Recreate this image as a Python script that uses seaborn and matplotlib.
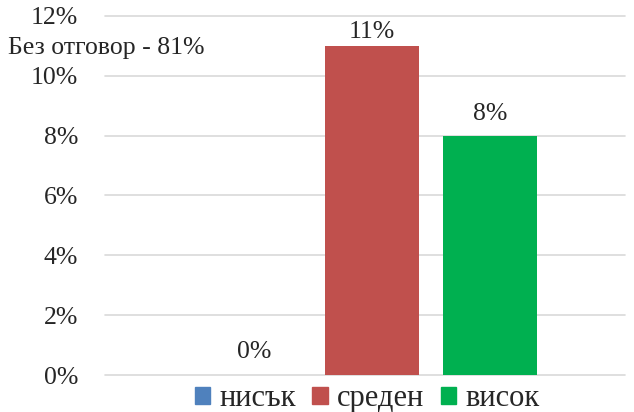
import pandas as pd
import seaborn as sns
from matplotlib import pyplot as plt

# values
levels = ['нисък', 'среден', 'висок']
shares = [0, 11, 8]
colors = ['#4F81BD', '#C0504D', '#00B050']
no_answer = 'Без отговор - 81%'

df = pd.DataFrame({'level': levels, 'share': shares})

sns.set_style('white')
plt.rcParams['font.family'] = ['Liberation Serif', 'DejaVu Serif']

fig = plt.figure(figsize=(6.34, 4.12), dpi=100)
ax = fig.add_axes([0.1656, 0.0898, 0.8204, 0.8714])

sns.barplot(data=df, x='level', y='share', hue='level', palette=colors,
            width=0.8, saturation=1, linewidth=0, legend=False, ax=ax, zorder=3)

# labels above the bars
paddings = [9, 2, 8]
for cont, pad in zip(ax.containers, paddings):
    ax.bar_label(cont, labels=[f'{int(v)}%' for v in cont.datavalues],
                 padding=pad, fontsize=18.5)

ax.set_ylim(0, 12)
ax.set_xlim(-1.263, 3.144)
ax.set_yticks(range(0, 13, 2))
ax.set_yticklabels([f'{v}%' for v in range(0, 13, 2)], fontsize=18.5)
ax.set_xticks([])
ax.set_xlabel('')
ax.set_ylabel('')
ax.yaxis.grid(True, color='#D9D9D9', linewidth=1.2, zorder=0)
for line in ax.get_ygridlines():
    line.set_clip_on(False)
ax.tick_params(axis='y', length=0, pad=19.5)
for s in ax.spines.values():
    s.set_visible(False)

fig.text(8 / 634, 1 - 48 / 412, no_answer, fontsize=18.5, va='center', ha='left')

handles = [plt.Rectangle((0, 0), 1, 1, color=c) for c in colors]
fig.legend(handles, levels, loc='center', bbox_to_anchor=(0.579, 0.032),
           ncol=3, frameon=False, fontsize=22, handlelength=0.5,
           handleheight=0.5, handletextpad=0.3, columnspacing=0.55,
           borderpad=0, borderaxespad=0)

fig.savefig('out.png', dpi=100)
